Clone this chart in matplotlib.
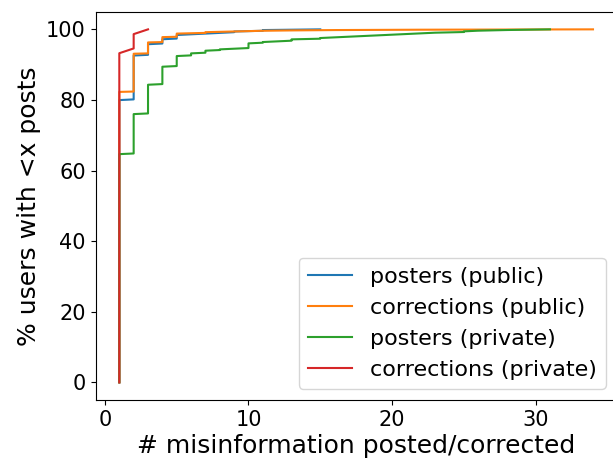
import numpy as np
import matplotlib
matplotlib.use("Agg")
import matplotlib.pyplot as plt
from matplotlib.ticker import MultipleLocator

# number of users per count of misinformation posted / corrected
posters_public_vals = [1, 2, 3, 4, 5, 6, 7, 8, 9, 11, 15]
posters_public_counts = [400, 63, 16, 7, 6, 1, 1, 1, 2, 2, 1]

corrections_public_vals = [1, 2, 3, 4, 5, 6, 7, 8, 9, 10, 11, 13, 16, 22, 34]
corrections_public_counts = [823, 108, 32, 15, 10, 1, 3, 1, 1, 1, 1, 1, 1, 1, 1]

posters_private_vals = [1, 2, 3, 4, 5, 6, 7, 8, 9, 10, 11, 12, 13, 15,
                        16, 17, 18, 19, 20, 21, 22, 23, 25, 26, 28, 31]
posters_private_counts = [343, 60, 44, 27, 16, 4, 4, 2, 1, 8, 2, 1, 3, 2,
                          1, 1, 1, 1, 1, 1, 1, 1, 2, 1, 1, 1]

corrections_private_vals = [1, 2, 3]
corrections_private_counts = [70, 4, 1]

labels = ["posters (public)", "corrections (public)",
          "posters (private)", "corrections (private)"]


def cdf_line(vals, counts):
    x = np.repeat(vals, counts)
    y = np.linspace(0, 100, len(x))
    return x, y


fig = plt.figure(figsize=(6.13, 4.59), dpi=100)
ax = fig.add_axes([0.156, 0.1285, 0.850, 0.846])

series = [
    (posters_public_vals, posters_public_counts),
    (corrections_public_vals, corrections_public_counts),
    (posters_private_vals, posters_private_counts),
    (corrections_private_vals, corrections_private_counts),
]
for (vals, counts), label in zip(series, labels):
    x, y = cdf_line(vals, counts)
    ax.plot(x, y, label=label)

ax.xaxis.set_major_locator(MultipleLocator(10))
ax.yaxis.set_major_locator(MultipleLocator(20))
ax.set_xlabel("# misinformation posted/corrected", fontsize=18, labelpad=3)
ax.set_ylabel("% users with <x posts", fontsize=18)
ax.tick_params(labelsize=15)
ax.legend(loc='lower right', fontsize=16)

fig.savefig("out.png", dpi=100)
